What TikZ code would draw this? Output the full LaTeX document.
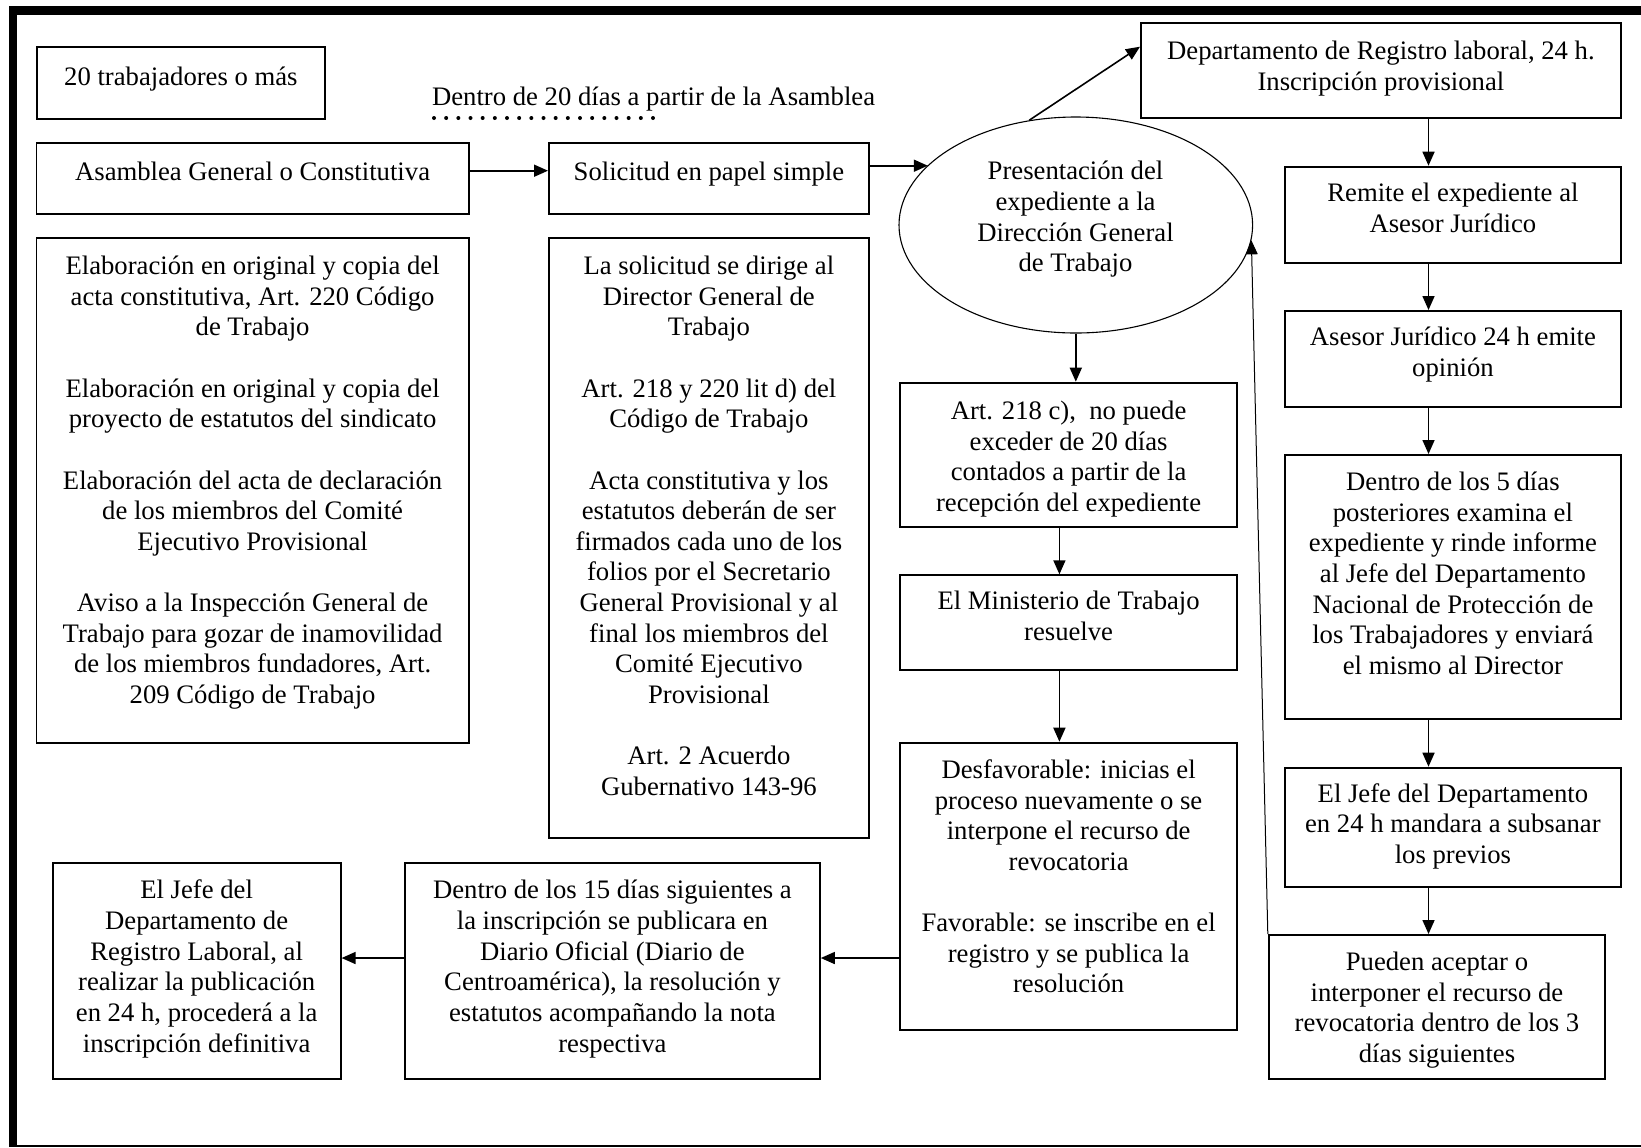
\documentclass[tikz,border=0pt]{standalone}
\usepackage{fontspec}
\setmainfont{Liberation Serif}
\usetikzlibrary{arrows.meta,shapes.geometric}
\newcommand{\bxc}[4]{\parbox[c][#2][t]{#1}{\centering\vspace*{#3}\strut#4\par}}
\begin{document}
\begin{tikzpicture}[x=0.5pt,y=-0.5pt,
  every node/.style={font=\fontsize{13.34pt}{15.32pt}\selectfont},
  bx/.style={draw, line width=0.9pt, inner sep=0pt, anchor=north west},
  arr/.style={line width=0.8pt, -{Triangle[length=7pt,width=6pt]}},
  thinarr/.style={line width=0.5pt, -{Triangle[length=7pt,width=6pt]}}]
\useasboundingbox (0,0) rectangle (1641,1147);
% frame
\draw[line width=4.5pt] (9.3,10.5) -- (1641,10.5);
\draw[line width=3.7pt] (13,6) -- (13,1147);
\draw[line width=0.8pt] (9.3,1145.8) -- (1641,1145.8);

% left column
\node[bx] (b20) at (35.7,45.7) {\bxc{144.3pt}{36.3pt}{8.9pt}{20 trabajadores o más}};
\node[anchor=base west, inner sep=0pt] (lbl) at (431.7,105) {Dentro de 20 días a partir de la Asamblea};
\draw[line width=2pt, line cap=round, dash pattern=on 0pt off 6.083pt] (434,118) -- (654,118);

\node[bx] (asam) at (35.6,142.3) {\bxc{216.1pt}{35.5pt}{8pt}{Asamblea General o Constitutiva}};
\node[bx] (sol) at (548,142.3) {\bxc{160pt}{35.5pt}{8pt}{Solicitud en papel simple}};

\node[bx] (elab) at (35.6,237) {\bxc{216.1pt}{252.5pt}{7.6pt}{Elaboración en original y copia del\\acta constitutiva, Art. 220 Código\\de Trabajo\\[\baselineskip]Elaboración en original y copia del\\proyecto de estatutos del sindicato\\[\baselineskip]Elaboración del acta de declaración\\de los miembros del Comité\\Ejecutivo Provisional\\[\baselineskip]Aviso a la Inspección General de\\Trabajo para gozar de inamovilidad\\de los miembros fundadores, Art.\\209 Código de Trabajo}};

\node[bx] (lasol) at (548,237) {\bxc{160pt}{300.15pt}{7.6pt}{La solicitud se dirige al\\Director General de\\Trabajo\\[\baselineskip]Art. 218 y 220 lit d) del\\Código de Trabajo\\[\baselineskip]Acta constitutiva y los\\estatutos deberán de ser\\firmados cada uno de los\\folios por el Secretario\\General Provisional y al\\final los miembros del\\Comité Ejecutivo\\Provisional\\[\baselineskip]Art. 2 Acuerdo\\Gubernativo 143-96}};

% ellipse
\node[ellipse, draw, line width=0.55pt, minimum width=176.8pt, minimum height=108pt, inner sep=0pt] (pres) at (1075.8,225) {};
\node[align=center, inner sep=0pt] (prestxt) at (1075.5,219.5) {Presentación del\\expediente a la\\Dirección General\\de Trabajo};

% middle column
\node[bx] (art) at (899.4,381.7) {\bxc{168.3pt}{72pt}{7.8pt}{Art. 218 c),\ \ no puede\\exceder de 20 días\\contados a partir de la\\recepción del expediente}};
\node[bx] (minis) at (899.4,574.3) {\bxc{168.3pt}{47.5pt}{6.6pt}{El Ministerio de Trabajo\\resuelve}};
\node[bx] (desfav) at (899.4,741.7) {\bxc{168.3pt}{143.8pt}{7.2pt}{Desfavorable: inicias el\\proceso nuevamente o se\\interpone el recurso de\\revocatoria\\[\baselineskip]Favorable: se inscribe en el\\registro y se publica la\\resolución}};

% right column
\node[bx] (depto) at (1140,22.3) {\bxc{240pt}{47.5pt}{7.5pt}{Departamento de Registro laboral, 24 h.\\Inscripción provisional}};
\node[bx] (remite) at (1284,165.7) {\bxc{168pt}{48pt}{6.8pt}{Remite el expediente al\\Asesor Jurídico}};
\node[bx] (asesor) at (1284,310) {\bxc{168pt}{47.85pt}{6.6pt}{Asesor Jurídico 24 h emite\\opinión}};
\node[bx] (dentro5) at (1284,454) {\bxc{168pt}{131.85pt}{7.1pt}{Dentro de los 5 días\\posteriores examina el\\expediente y rinde informe\\al Jefe del Departamento\\Nacional de Protección de\\los Trabajadores y enviará\\el mismo al Director}};
\node[bx] (jefedep) at (1284,766.7) {\bxc{168pt}{59.65pt}{6.6pt}{El Jefe del Departamento\\en 24 h mandara a subsanar\\los previos}};
\node[bx] (pueden) at (1267.8,934) {\bxc{168.25pt}{71.85pt}{7.1pt}{Pueden aceptar o\\interponer el recurso de\\revocatoria dentro de los 3\\días siguientes}};

% bottom row
\node[bx] (dentro15) at (404,861.7) {\bxc{207.5pt}{108pt}{7.4pt}{Dentro de los 15 días siguientes a\\la inscripción se publicara en\\Diario Oficial (Diario de\\Centroamérica), la resolución y\\estatutos acompañando la nota\\respectiva}};
\node[bx] (jefe) at (51.7,861.7) {\bxc{144.05pt}{108pt}{7.4pt}{El Jefe del\\Departamento de\\Registro Laboral, al\\realizar la publicación\\en 24 h, procederá a la\\inscripción definitiva}};

% helper coordinates
\coordinate (yA) at (0,170.7);
\coordinate (yB) at (0,165.7);
\coordinate (yC) at (0,46.7);
\coordinate (yD) at (0,958);
\coordinate (xR) at (1428.5,0);
\coordinate (xM) at (1059.4,0);

% connectors
\draw[arr] (asam.east |- yA) -- (sol.west |- yA);
\draw[arr] (sol.east |- yB) -- (pres.158 |- yB);
\draw[arr] (pres.114) -- (depto.west |- yC);
\draw[arr] (depto.south -| xR) -- (remite.north -| xR);
\draw[arr] (remite.south -| xR) -- (asesor.north -| xR);
\draw[arr] (asesor.south -| xR) -- (dentro5.north -| xR);
\draw[arr] (dentro5.south -| xR) -- (jefedep.north -| xR);
\draw[arr] (jefedep.south -| xR) -- (pueden.north -| xR);
\draw[thinarr] (pueden.north west) -- (pres.-5);
\draw[arr] (pres.south) -- (art.north -| pres.south);
\draw[arr] (art.south -| xM) -- (minis.north -| xM);
\draw[arr] (minis.south -| xM) -- (desfav.north -| xM);
\draw[arr] (desfav.west |- yD) -- (dentro15.east |- yD);
\draw[arr] (dentro15.west |- yD) -- (jefe.east |- yD);
\end{tikzpicture}
\end{document}
